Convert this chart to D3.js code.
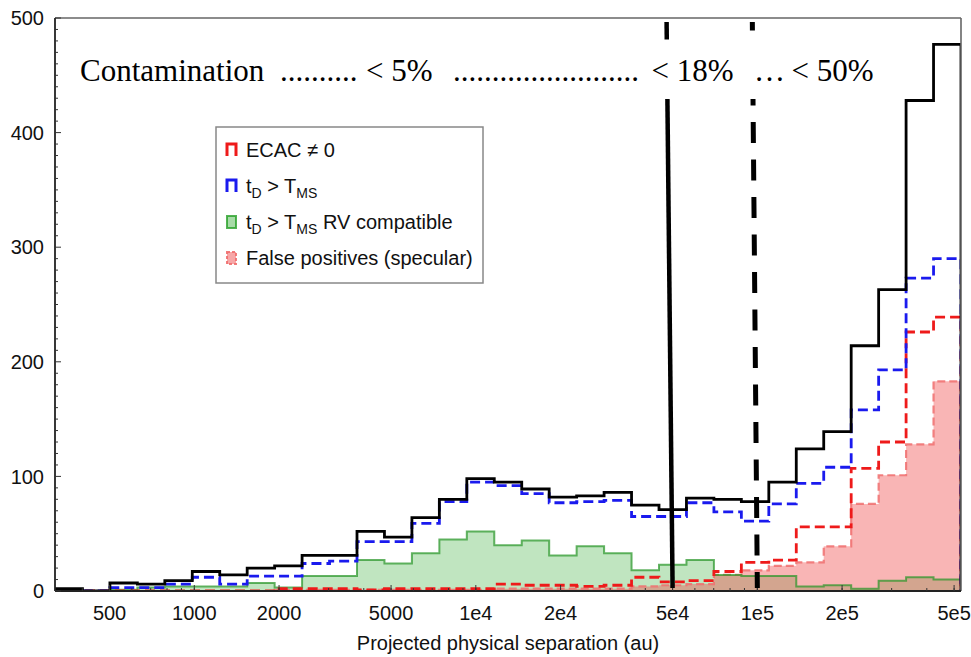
<!DOCTYPE html>
<html>
<head>
<meta charset="utf-8">
<script src="https://cdn.jsdelivr.net/npm/d3@7"></script>
<style>
  html, body { margin: 0; padding: 0; background: #fff; }
  svg { display: block; }
  .sans { font-family: "Liberation Sans", Arial, sans-serif; }
  .serif { font-family: "Liberation Serif", "Times New Roman", serif; }
</style>
</head>
<body>
<svg id="chart" width="971" height="657"></svg>
<script>
// Histogram binning: equal widths in log(separation)
const binLo = 320;
const binHi = 529000;
const nBins = 33;

// Counts per bin (all pairs, and the selected sub-samples)
const allPairs   = [2, 0, 7, 6, 9, 17, 14, 20, 22, 31, 31, 52, 47, 64, 80, 98, 95, 89, 82, 83, 86, 75, 71, 81, 80, 78, 95, 124, 139, 214, 263, 428, 477];
const tdOverTms  = [1, 0, 3, 3, 6, 12, 6, 13, 13, 24, 26, 43, 43, 59, 78, 95, 92, 85, 77, 78, 79, 65, 65, 77, 69, 61, 76, 94, 108, 158, 193, 273, 290];
const rvCompat   = [0, 0, 1, 3, 4, 4, 4, 7, 3, 13, 13, 27, 24, 33, 45, 52, 40, 44, 31, 39, 33, 18, 23, 27, 14, 13, 13, 4, 5, 2, 9, 12, 10];
const ecacNonZero= [0, 0, 0, 0, 0, 0, 0, 0, 2, 2, 2, 1, 2, 2, 2, 2, 6, 5, 5, 4, 5, 12, 8, 9, 17, 25, 27, 56, 56, 107, 130, 226, 239];
const falsePos   = [0, 0, 0, 0, 0, 0, 0, 0, 1, 1, 1, 1, 1, 1, 1, 1, 2, 2, 2, 2, 2, 4, 5, 6, 14, 18, 22, 25, 39, 76, 101, 128, 183];

// Axis ticks
const xTickValues = [500, 1000, 2000, 5000, 1e4, 2e4, 5e4, 1e5, 2e5, 5e5];
const xTickLabels = ["500", "1000", "2000", "5000", "1e4", "2e4", "5e4", "1e5", "2e5", "5e5"];
const yTickValues = [0, 100, 200, 300, 400, 500];

// Contamination thresholds (separation in au)
const cutSolid = 5e4;
const cutDashed = 1e5;

// Legend entries
const legendItems = ["ecac", "td", "rv", "fp"];

const svg = d3.select("#chart");
const margin = { left: 55, right: 10, top: 18, bottom: 66 };
const W = 971, H = 657;
const x = d3.scaleLog().domain([binLo, binHi]).range([margin.left, W - margin.right]);
const y = d3.scaleLinear().domain([0, 500]).range([H - margin.bottom, margin.top]);

const edges = d3.range(nBins + 1).map(i => binLo * Math.pow(binHi / binLo, i / nBins));

function stepPoints(vals) {
  const pts = [[edges[0], 0]];
  vals.forEach((v, i) => { pts.push([edges[i], v]); pts.push([edges[i + 1], v]); });
  pts.push([edges[vals.length], 0]);
  return pts;
}
const line = d3.line().x(d => x(d[0])).y(d => y(d[1]));
const area = d3.area().x(d => x(d[0])).y0(y(0)).y1(d => y(d[1]));

svg.append("defs").append("clipPath").attr("id", "plotclip")
  .append("rect")
  .attr("x", x.range()[0]).attr("y", y.range()[1])
  .attr("width", x.range()[1] - x.range()[0])
  .attr("height", y.range()[0] - y.range()[1]);

const plot = svg.append("g").attr("clip-path", "url(#plotclip)");

// RV compatible: filled green
plot.append("path").attr("d", area(stepPoints(rvCompat)))
  .attr("fill", "rgba(60,175,60,0.32)").attr("stroke", "none");

// False positives (specular): filled, dashed outline
plot.append("path").attr("d", area(stepPoints(falsePos)))
  .attr("fill", "rgba(240,70,70,0.4)").attr("stroke", "none");
plot.append("path").attr("d", line(stepPoints(falsePos)))
  .attr("fill", "none").attr("stroke", "rgba(240,110,110,0.85)")
  .attr("stroke-width", 2.2).attr("stroke-dasharray", "8,4");

// RV compatible outline
plot.append("path").attr("d", line(stepPoints(rvCompat)))
  .attr("fill", "none").attr("stroke", "rgba(40,150,40,0.72)")
  .attr("stroke-width", 2);

// ECAC != 0: red dashed
plot.append("path").attr("d", line(stepPoints(ecacNonZero)))
  .attr("fill", "none").attr("stroke", "#ee1a1a")
  .attr("stroke-width", 2.8).attr("stroke-dasharray", "10,5");

// tD > TMS: blue dashed
plot.append("path").attr("d", line(stepPoints(tdOverTms)))
  .attr("fill", "none").attr("stroke", "#1a1aee")
  .attr("stroke-width", 2.8).attr("stroke-dasharray", "10,5");

// All pairs: black solid
plot.append("path").attr("d", line(stepPoints(allPairs)))
  .attr("fill", "none").attr("stroke", "#000")
  .attr("stroke-width", 2.8);

// Frame
const fr = svg.append("g");
fr.append("line").attr("x1", x.range()[0]).attr("x2", x.range()[1])
  .attr("y1", y.range()[1]).attr("y2", y.range()[1])
  .attr("stroke", "#666").attr("stroke-width", 1.6);
fr.append("line").attr("x1", x.range()[1]).attr("x2", x.range()[1])
  .attr("y1", y.range()[1]).attr("y2", y.range()[0])
  .attr("stroke", "#666").attr("stroke-width", 1.6);
fr.append("line").attr("x1", x.range()[0]).attr("x2", x.range()[0])
  .attr("y1", y.range()[1]).attr("y2", y.range()[0])
  .attr("stroke", "#222").attr("stroke-width", 1.8);
fr.append("line").attr("x1", x.range()[0]).attr("x2", x.range()[1])
  .attr("y1", y.range()[0]).attr("y2", y.range()[0])
  .attr("stroke", "#222").attr("stroke-width", 1.8);

// Y ticks (inward) with minor ticks every 10
const yMinor = d3.range(0, 501, 10);
fr.selectAll(".ymin").data(yMinor).join("line")
  .attr("x1", x.range()[0]).attr("x2", d => x.range()[0] + (d % 100 === 0 ? 6 : 3))
  .attr("y1", d => y(d)).attr("y2", d => y(d))
  .attr("stroke", "#333").attr("stroke-width", 1);
fr.selectAll(".ylab").data(yTickValues).join("text")
  .attr("class", "sans")
  .attr("x", x.range()[0] - 11).attr("y", d => y(d))
  .attr("dy", "0.36em").attr("text-anchor", "end")
  .attr("font-size", 20).attr("fill", "#111")
  .text(d => d);

// X ticks (inward): minor at k*10^n, major at labelled values
const xMinor = [];
[100, 1000, 1e4, 1e5].forEach(dec => d3.range(1, 10).forEach(k => {
  const v = k * dec;
  if (v >= binLo && v <= binHi) xMinor.push(v);
}));
fr.selectAll(".xmin").data(xMinor).join("line")
  .attr("x1", d => x(d)).attr("x2", d => x(d))
  .attr("y1", y.range()[0]).attr("y2", y.range()[0] - 3)
  .attr("stroke", "#333").attr("stroke-width", 1);
fr.selectAll(".xmaj").data(xTickValues).join("line")
  .attr("x1", d => x(d)).attr("x2", d => x(d))
  .attr("y1", y.range()[0]).attr("y2", y.range()[0] - 6)
  .attr("stroke", "#333").attr("stroke-width", 1);
fr.selectAll(".xlab").data(xTickValues).join("text")
  .attr("class", "sans")
  .attr("x", d => x(d)).attr("y", y.range()[0] + 29)
  .attr("text-anchor", "middle")
  .attr("font-size", 20).attr("fill", "#111")
  .text((d, i) => xTickLabels[i]);
svg.append("text").attr("class", "sans")
  .attr("x", (x.range()[0] + x.range()[1]) / 2).attr("y", 650)
  .attr("text-anchor", "middle").attr("font-size", 20).attr("fill", "#111")
  .text("Projected physical separation (au)");

// Threshold lines
const yTopLine = y.range()[1] + 4;
const yBotLine = y.range()[0] - 3;
svg.append("line")
  .attr("x1", x(cutSolid) - 6).attr("y1", yTopLine)
  .attr("x2", x(cutSolid)).attr("y2", yBotLine)
  .attr("stroke", "#000").attr("stroke-width", 4.5);
svg.append("line")
  .attr("x1", x(cutDashed) - 5).attr("y1", yTopLine)
  .attr("x2", x(cutDashed)).attr("y2", yBotLine)
  .attr("stroke", "#000").attr("stroke-width", 5)
  .attr("stroke-dasharray", "21,16.5").attr("stroke-dashoffset", 12.5);

// Contamination banner
svg.append("rect").attr("x", 76).attr("y", 39.5).attr("width", 804).attr("height", 59.5)
  .attr("fill", "#fff");
const banner = svg.append("text").attr("class", "serif")
  .attr("y", 81).attr("font-size", 31).attr("fill", "#000");
[
  [80, "Contamination"],
  [280, ".........."],
  [366, "< 5%"],
  [453, "........................"],
  [651.5, "< 18%"],
  [754, "\u2026"],
  [791.5, "< 50%"]
].forEach(([px, s]) => banner.append("tspan").attr("x", px).text(s));

// Legend
const lg = svg.append("g");
lg.append("rect").attr("x", 216).attr("y", 127).attr("width", 267).attr("height", 156)
  .attr("fill", "#fff").attr("stroke", "#888").attr("stroke-width", 1.5);
const rowY = [157, 193, 229, 265];
legendItems.forEach((key, i) => {
  const by = rowY[i] - 1, ix = 227, iw = 9, ih = 12;
  if (key === "ecac" || key === "td") {
    lg.append("path")
      .attr("d", `M${ix},${by} V${by - ih} H${ix + iw} V${by}`)
      .attr("fill", "none").attr("stroke", key === "ecac" ? "#ee1a1a" : "#1a1aee")
      .attr("stroke-width", 3);
  } else if (key === "rv") {
    lg.append("rect").attr("x", ix).attr("y", by - ih).attr("width", iw).attr("height", ih)
      .attr("fill", "rgba(60,175,60,0.45)").attr("stroke", "rgba(40,160,40,0.8)").attr("stroke-width", 2);
  } else {
    lg.append("rect").attr("x", ix).attr("y", by - ih).attr("width", iw).attr("height", ih)
      .attr("fill", "rgba(238,60,60,0.45)").attr("stroke", "rgba(240,110,110,0.9)")
      .attr("stroke-width", 2).attr("stroke-dasharray", "3,2");
  }
  const t = lg.append("text").attr("class", "sans")
    .attr("x", 246).attr("y", rowY[i]).attr("font-size", 20).attr("fill", "#111");
  if (key === "ecac") {
    t.text("ECAC \u2260 0");
  } else if (key === "fp") {
    t.text("False positives (specular)");
  } else {
    t.append("tspan").text("t");
    t.append("tspan").attr("font-size", 14).attr("dy", 5).text("D");
    t.append("tspan").attr("dy", -5).text(" > T");
    t.append("tspan").attr("font-size", 14).attr("dy", 5).text("MS");
    if (key === "rv") t.append("tspan").attr("dy", -5).text(" RV compatible");
  }
});
</script>
</body>
</html>
